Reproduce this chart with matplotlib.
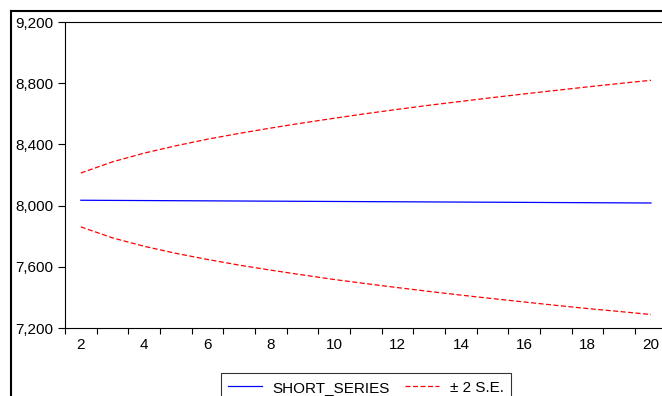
import matplotlib
matplotlib.use("Agg")
import matplotlib.pyplot as plt
from matplotlib.ticker import FuncFormatter, FixedLocator
from matplotlib.lines import Line2D

# forecast horizon (periods)
periods = list(range(2, 21))

# point forecast
short_series = [8035, 8034, 8033, 8032, 8031, 8030, 8029, 8028, 8027, 8026,
                8025, 8024, 8023, 8022, 8021, 8020, 8019, 8018, 8017]

# +/- 2 standard error band
upper_band = [8213, 8286, 8343, 8391, 8434, 8472, 8507, 8540, 8571, 8601,
              8629, 8656, 8681, 8706, 8730, 8753, 8776, 8798, 8819]
lower_band = [7861, 7789, 7734, 7688, 7648, 7611, 7578, 7547, 7517, 7490,
              7464, 7439, 7415, 7392, 7370, 7348, 7327, 7308, 7288]

y_ticks = [7200, 7600, 8000, 8400, 8800, 9200]
x_labels = [2, 4, 6, 8, 10, 12, 14, 16, 18, 20]

plt.rcParams["font.family"] = ["Liberation Sans", "DejaVu Sans"]
FS = 11

W, H = 662, 396
fig = plt.figure(figsize=(W / 100, H / 100), dpi=100)
fig.patch.set_facecolor("white")

# axes box in pixel terms: left 65, top 22, bottom 328, right beyond the crop
x_left, x_right = 1.5, 20.5
px_per_unit = (651 - 81) / 18.0
ax_left_px = 65
ax_right_px = 81 + (x_right - 2) * px_per_unit
ax = fig.add_axes([ax_left_px / W, 1 - 328 / H,
                   (ax_right_px - ax_left_px) / W, (328 - 22) / H])

ax.plot(periods, short_series, color="#0000FF", linewidth=0.9)
ax.plot(periods, upper_band, color="#FF0000", linewidth=0.9, dashes=(4, 2))
ax.plot(periods, lower_band, color="#FF0000", linewidth=0.9, dashes=(4, 2))

ax.set_xlim(x_left, x_right)
ax.set_ylim(7200, 9200)

ax.yaxis.set_major_locator(FixedLocator(y_ticks))
ax.yaxis.set_major_formatter(FuncFormatter(lambda v, p: f"{int(v):,}"))
ax.xaxis.set_major_locator(FixedLocator(x_labels))
ax.xaxis.set_minor_locator(FixedLocator([p + 0.5 for p in range(1, 21)]))

ax.tick_params(axis="y", direction="out", length=5, width=0.8, pad=3.5,
               labelsize=FS, colors="black")
ax.tick_params(axis="x", which="major", length=0, pad=7, labelsize=FS)
ax.tick_params(axis="x", which="minor", direction="out", length=4, width=0.8)

ax.spines["right"].set_visible(False)
for s in ["left", "top", "bottom"]:
    ax.spines[s].set_linewidth(0.8)
    ax.spines[s].set_color("black")

# outer frame of the cropped graph window
fig.add_artist(Line2D([11 / W, 11 / W], [0, 1 - 11 / H], transform=fig.transFigure,
                      color="black", linewidth=1.5))
fig.add_artist(Line2D([11 / W, 1], [1 - 11 / H, 1 - 11 / H], transform=fig.transFigure,
                      color="black", linewidth=1.5))

handles = [Line2D([], [], color="#0000FF", linewidth=0.9),
           Line2D([], [], color="#FF0000", linewidth=0.9, dashes=(4, 2))]
leg = fig.legend(handles, ["SHORT_SERIES", "\u00b1 2 S.E."], ncol=2,
                 loc="upper center", bbox_to_anchor=(366 / W, 1 - 373 / H),
                 fontsize=FS, frameon=True, fancybox=False, borderpad=0.5,
                 handlelength=2.2, handletextpad=0.7, columnspacing=1.0,
                 borderaxespad=0)
leg.get_frame().set_edgecolor("black")
leg.get_frame().set_linewidth(0.8)

fig.savefig("out.png", dpi=100, facecolor="white")
